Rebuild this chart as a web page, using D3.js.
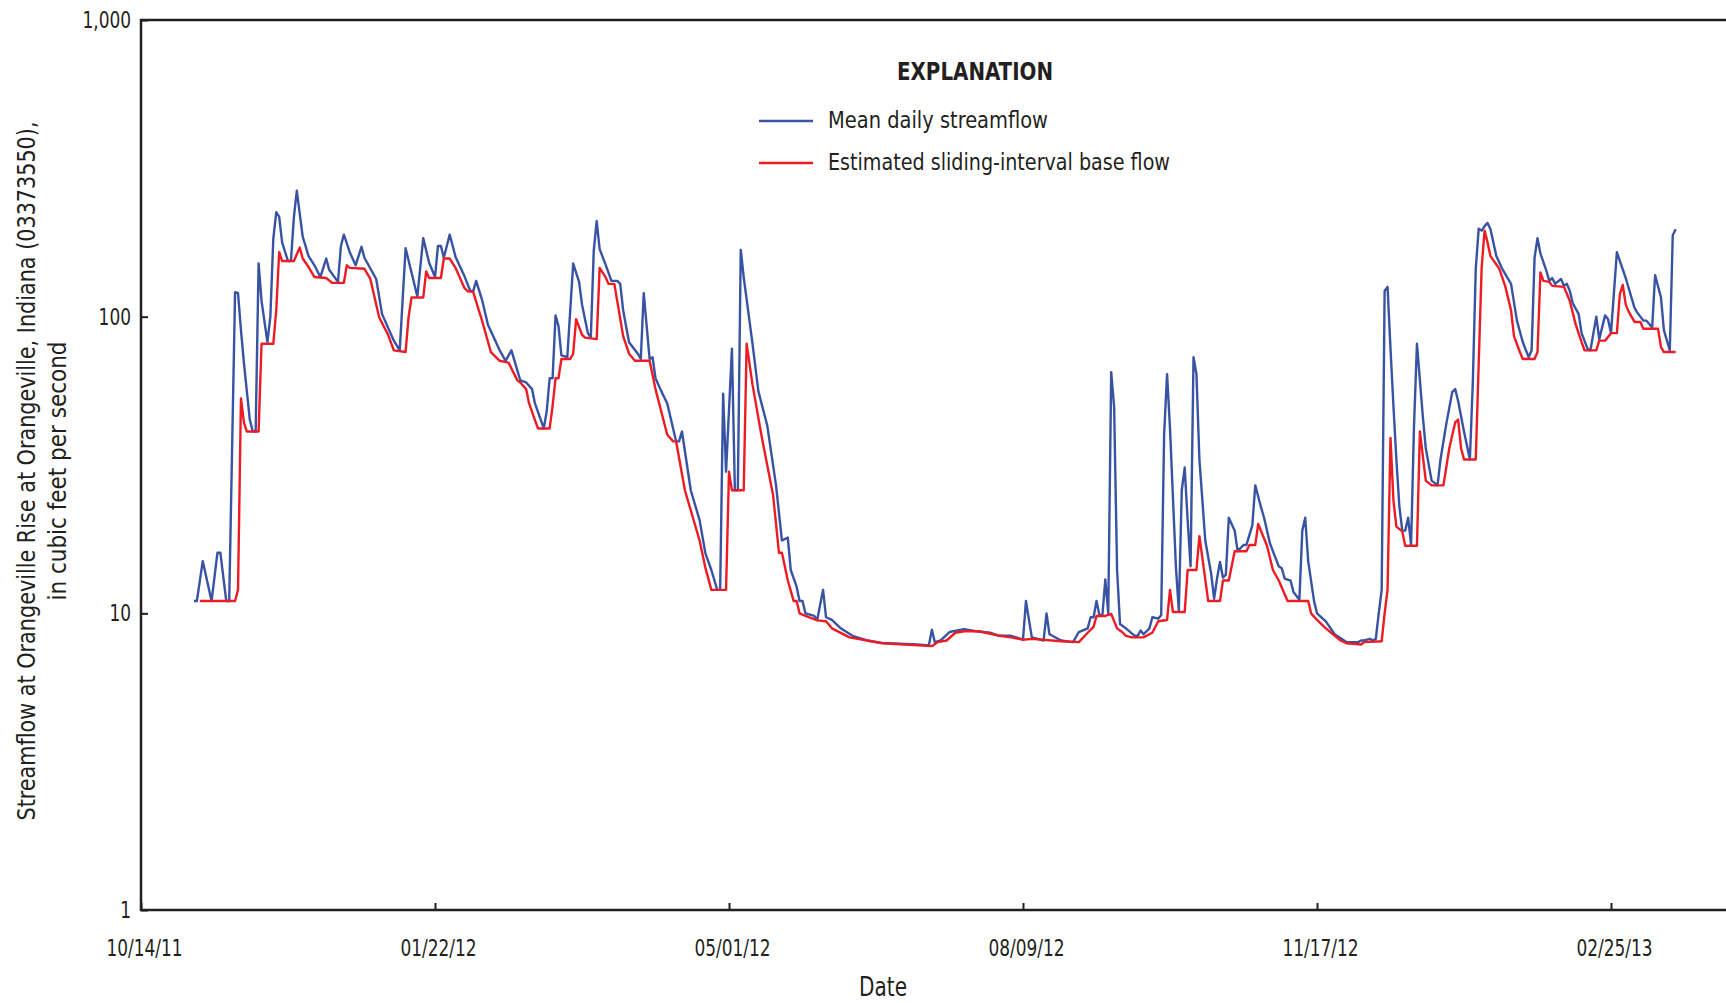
<!DOCTYPE html>
<html>
<head>
<meta charset="utf-8">
<script src="https://cdn.jsdelivr.net/npm/d3@7"></script>
<style>
  body { margin: 0; background: #fff; }
  svg { display: block; }
</style>
</head>
<body>
<div id="runApp"></div>
<script>
const width = 1726;
const height = 1003;
const font = "'Liberation Sans Narrow', 'Arial Narrow', 'DejaVu Sans Condensed', sans-serif";
const ink = "#231f20";

// axis ticks
const yTicks = [1, 10, 100, 1000];
const xTickLabels = ["10/14/11", "01/22/12", "05/01/12", "08/09/12", "11/17/12", "02/25/13"];
const xDomain = ["10/14/11", "06/05/13"];

const seriesNames = ["Mean daily streamflow", "Estimated sliding-interval base flow"];
const seriesColors = ["#3953a4", "#ed1c24"];

// mean daily streamflow, cubic feet per second (turning points)
const streamflow = [
  ["2011-11-01", 11], ["2011-11-02", 11], ["2011-11-04", 15], ["2011-11-07", 11], ["2011-11-09", 16],
  ["2011-11-10", 16], ["2011-11-12", 11], ["2011-11-13", 11], ["2011-11-15", 121], ["2011-11-16", 120],
  ["2011-11-17", 90], ["2011-11-18", 70], ["2011-11-20", 45], ["2011-11-21", 41], ["2011-11-22", 41],
  ["2011-11-23", 151], ["2011-11-24", 113], ["2011-11-26", 82], ["2011-11-27", 100], ["2011-11-28", 183],
  ["2011-11-29", 225], ["2011-11-30", 217], ["2011-12-01", 178], ["2011-12-03", 154], ["2011-12-04", 154],
  ["2011-12-05", 216], ["2011-12-06", 266], ["2011-12-07", 222], ["2011-12-08", 186], ["2011-12-10", 160],
  ["2011-12-12", 149], ["2011-12-14", 136], ["2011-12-16", 157], ["2011-12-17", 144], ["2011-12-20", 131],
  ["2011-12-21", 173], ["2011-12-22", 189], ["2011-12-24", 165], ["2011-12-26", 149], ["2011-12-28", 172],
  ["2011-12-29", 158], ["2012-01-02", 134], ["2012-01-04", 102], ["2012-01-08", 83], ["2012-01-10", 77],
  ["2012-01-12", 170], ["2012-01-16", 117], ["2012-01-18", 184], ["2012-01-20", 152], ["2012-01-22", 136],
  ["2012-01-23", 173], ["2012-01-24", 173], ["2012-01-25", 158], ["2012-01-27", 189], ["2012-01-29", 159],
  ["2012-02-01", 137], ["2012-02-03", 122], ["2012-02-04", 122], ["2012-02-05", 132], ["2012-02-07", 114],
  ["2012-02-09", 94], ["2012-02-13", 77], ["2012-02-15", 71], ["2012-02-17", 77], ["2012-02-20", 61],
  ["2012-02-22", 60], ["2012-02-24", 57], ["2012-02-25", 51], ["2012-02-28", 42], ["2012-02-29", 48],
  ["2012-03-01", 62], ["2012-03-02", 62], ["2012-03-03", 101], ["2012-03-04", 93], ["2012-03-05", 74],
  ["2012-03-07", 73], ["2012-03-09", 151], ["2012-03-11", 131], ["2012-03-12", 110], ["2012-03-14", 88],
  ["2012-03-15", 85], ["2012-03-16", 167], ["2012-03-17", 210], ["2012-03-18", 169], ["2012-03-20", 150],
  ["2012-03-22", 132], ["2012-03-24", 132], ["2012-03-25", 129], ["2012-03-26", 105], ["2012-03-28", 82],
  ["2012-03-31", 75], ["2012-04-01", 72], ["2012-04-02", 120], ["2012-04-04", 72], ["2012-04-05", 73],
  ["2012-04-06", 62], ["2012-04-08", 56], ["2012-04-10", 51], ["2012-04-13", 38], ["2012-04-14", 38],
  ["2012-04-15", 41], ["2012-04-18", 26], ["2012-04-21", 20.6], ["2012-04-23", 15.9], ["2012-04-25", 14],
  ["2012-04-27", 12], ["2012-04-28", 12], ["2012-04-29", 55], ["2012-04-30", 30], ["2012-05-02", 78],
  ["2012-05-03", 26], ["2012-05-04", 26], ["2012-05-05", 168], ["2012-05-06", 136], ["2012-05-09", 81],
  ["2012-05-11", 56], ["2012-05-14", 43], ["2012-05-17", 27], ["2012-05-19", 17.6], ["2012-05-21", 18],
  ["2012-05-22", 14], ["2012-05-24", 12.3], ["2012-05-25", 11], ["2012-05-26", 11], ["2012-05-27", 10],
  ["2012-05-30", 9.8], ["2012-05-31", 9.5], ["2012-06-02", 12], ["2012-06-03", 9.7], ["2012-06-05", 9.5],
  ["2012-06-08", 8.9], ["2012-06-12", 8.4], ["2012-06-17", 8.1], ["2012-06-22", 7.95], ["2012-06-28", 7.9],
  ["2012-07-04", 7.85], ["2012-07-08", 7.8], ["2012-07-09", 8.8], ["2012-07-10", 8.0], ["2012-07-12", 8.1],
  ["2012-07-15", 8.65], ["2012-07-20", 8.85], ["2012-07-24", 8.7], ["2012-07-29", 8.6], ["2012-08-01", 8.4],
  ["2012-08-05", 8.4], ["2012-08-09", 8.15], ["2012-08-10", 11], ["2012-08-12", 8.3], ["2012-08-16", 8.1],
  ["2012-08-17", 10], ["2012-08-18", 8.5], ["2012-08-22", 8.1], ["2012-08-26", 8.0], ["2012-08-28", 8.65],
  ["2012-08-31", 8.9], ["2012-09-01", 9.7], ["2012-09-02", 9.7], ["2012-09-03", 11], ["2012-09-04", 9.85],
  ["2012-09-05", 9.85], ["2012-09-06", 13], ["2012-09-07", 10], ["2012-09-08", 65], ["2012-09-09", 49.5],
  ["2012-09-10", 14], ["2012-09-11", 9.2], ["2012-09-13", 8.9], ["2012-09-16", 8.4], ["2012-09-17", 8.4],
  ["2012-09-18", 8.75], ["2012-09-19", 8.5], ["2012-09-21", 8.9], ["2012-09-22", 9.7], ["2012-09-24", 9.6],
  ["2012-09-25", 9.85], ["2012-09-26", 40], ["2012-09-27", 64], ["2012-09-28", 42], ["2012-09-30", 14.4],
  ["2012-10-01", 10.2], ["2012-10-02", 26], ["2012-10-03", 31], ["2012-10-04", 20.6], ["2012-10-05", 14.4],
  ["2012-10-06", 73], ["2012-10-07", 64], ["2012-10-08", 33], ["2012-10-10", 17.6], ["2012-10-12", 13.6],
  ["2012-10-13", 11.2], ["2012-10-14", 13.1], ["2012-10-15", 14.9], ["2012-10-16", 13.2], ["2012-10-17", 13.5],
  ["2012-10-18", 21], ["2012-10-20", 19], ["2012-10-21", 16.2], ["2012-10-23", 17], ["2012-10-24", 17],
  ["2012-10-26", 19.8], ["2012-10-27", 27], ["2012-10-29", 22.7], ["2012-10-30", 21], ["2012-11-01", 17.2],
  ["2012-11-04", 14.4], ["2012-11-05", 14.2], ["2012-11-06", 13.1], ["2012-11-08", 12.9], ["2012-11-09", 11.8],
  ["2012-11-11", 11.1], ["2012-11-12", 19], ["2012-11-13", 21], ["2012-11-14", 15], ["2012-11-16", 11],
  ["2012-11-17", 10], ["2012-11-20", 9.4], ["2012-11-23", 8.5], ["2012-11-27", 8.0], ["2012-12-01", 8.0],
  ["2012-12-02", 8.1], ["2012-12-03", 8.1], ["2012-12-05", 8.2], ["2012-12-06", 8.1], ["2012-12-07", 8.2],
  ["2012-12-08", 10], ["2012-12-09", 12], ["2012-12-10", 122], ["2012-12-11", 126], ["2012-12-12", 78],
  ["2012-12-13", 50], ["2012-12-14", 33], ["2012-12-15", 23], ["2012-12-16", 19], ["2012-12-17", 19],
  ["2012-12-18", 21], ["2012-12-19", 17], ["2012-12-20", 43], ["2012-12-21", 81], ["2012-12-23", 46],
  ["2012-12-24", 36], ["2012-12-26", 28], ["2012-12-28", 27], ["2012-12-29", 33], ["2012-12-31", 43.6],
  ["2013-01-02", 55.7], ["2013-01-03", 57], ["2013-01-04", 52], ["2013-01-06", 41], ["2013-01-08", 33],
  ["2013-01-09", 60], ["2013-01-10", 145], ["2013-01-11", 198], ["2013-01-12", 195], ["2013-01-13", 202],
  ["2013-01-14", 207], ["2013-01-15", 197], ["2013-01-17", 160], ["2013-01-19", 145], ["2013-01-22", 129],
  ["2013-01-24", 97], ["2013-01-26", 82], ["2013-01-28", 73], ["2013-01-29", 77], ["2013-01-30", 158],
  ["2013-01-31", 184], ["2013-02-01", 163], ["2013-02-03", 143], ["2013-02-04", 132], ["2013-02-05", 135],
  ["2013-02-06", 129], ["2013-02-08", 134], ["2013-02-09", 127], ["2013-02-10", 129], ["2013-02-11", 122],
  ["2013-02-12", 111], ["2013-02-14", 102], ["2013-02-15", 88], ["2013-02-17", 78], ["2013-02-18", 77],
  ["2013-02-20", 100], ["2013-02-21", 84], ["2013-02-23", 101], ["2013-02-24", 98], ["2013-02-25", 88],
  ["2013-02-27", 165], ["2013-03-02", 135], ["2013-03-05", 107], ["2013-03-06", 103], ["2013-03-08", 97],
  ["2013-03-09", 97], ["2013-03-11", 92], ["2013-03-12", 138], ["2013-03-14", 116], ["2013-03-15", 90],
  ["2013-03-17", 77], ["2013-03-18", 188], ["2013-03-19", 197],
];

// estimated sliding-interval base flow, cubic feet per second
const baseflow = [
  ["2011-11-03", 11], ["2011-11-15", 11], ["2011-11-16", 12], ["2011-11-17", 53], ["2011-11-18", 44],
  ["2011-11-19", 41], ["2011-11-23", 41], ["2011-11-24", 81], ["2011-11-28", 81], ["2011-11-29", 105],
  ["2011-11-30", 165], ["2011-12-01", 154], ["2011-12-05", 154], ["2011-12-07", 171], ["2011-12-08", 157],
  ["2011-12-10", 147], ["2011-12-12", 136], ["2011-12-16", 135], ["2011-12-18", 130], ["2011-12-22", 130],
  ["2011-12-23", 149], ["2011-12-24", 146], ["2011-12-29", 145], ["2011-12-31", 134], ["2012-01-03", 99.5],
  ["2012-01-06", 87], ["2012-01-08", 77], ["2012-01-12", 76], ["2012-01-13", 99.5], ["2012-01-14", 116],
  ["2012-01-18", 116], ["2012-01-19", 142], ["2012-01-20", 135], ["2012-01-24", 135], ["2012-01-25", 157],
  ["2012-01-27", 157], ["2012-01-29", 146], ["2012-02-01", 125], ["2012-02-02", 122], ["2012-02-04", 121],
  ["2012-02-07", 97], ["2012-02-10", 76], ["2012-02-13", 71], ["2012-02-16", 70], ["2012-02-19", 61],
  ["2012-02-20", 60], ["2012-02-22", 57], ["2012-02-23", 51], ["2012-02-26", 42], ["2012-03-01", 42],
  ["2012-03-02", 50], ["2012-03-03", 62], ["2012-03-04", 62], ["2012-03-05", 72], ["2012-03-08", 72],
  ["2012-03-09", 75], ["2012-03-10", 98], ["2012-03-12", 87], ["2012-03-13", 85], ["2012-03-17", 84],
  ["2012-03-18", 146], ["2012-03-20", 136], ["2012-03-21", 129], ["2012-03-23", 129], ["2012-03-26", 86],
  ["2012-03-28", 75], ["2012-03-30", 71], ["2012-04-04", 71], ["2012-04-06", 57], ["2012-04-10", 40],
  ["2012-04-12", 38], ["2012-04-13", 38], ["2012-04-16", 26], ["2012-04-21", 17.6], ["2012-04-23", 14.2],
  ["2012-04-25", 12], ["2012-04-30", 12], ["2012-05-01", 30], ["2012-05-02", 26], ["2012-05-06", 26],
  ["2012-05-07", 81], ["2012-05-09", 59], ["2012-05-12", 40], ["2012-05-16", 25], ["2012-05-18", 16],
  ["2012-05-19", 16], ["2012-05-21", 12.9], ["2012-05-23", 11], ["2012-05-24", 11], ["2012-05-25", 10],
  ["2012-05-27", 9.8], ["2012-05-31", 9.47], ["2012-06-03", 9.4], ["2012-06-05", 8.9], ["2012-06-11", 8.3],
  ["2012-06-17", 8.1], ["2012-06-22", 7.93], ["2012-07-09", 7.75], ["2012-07-11", 8.0], ["2012-07-14", 8.1],
  ["2012-07-17", 8.6], ["2012-07-20", 8.7], ["2012-07-25", 8.7], ["2012-08-01", 8.4], ["2012-08-05", 8.3],
  ["2012-08-09", 8.15], ["2012-08-12", 8.2], ["2012-08-22", 8.05], ["2012-08-28", 8.0], ["2012-08-31", 8.6],
  ["2012-09-02", 9.0], ["2012-09-03", 9.8], ["2012-09-06", 9.8], ["2012-09-08", 9.95], ["2012-09-10", 8.9],
  ["2012-09-12", 8.6], ["2012-09-13", 8.4], ["2012-09-15", 8.3], ["2012-09-19", 8.3], ["2012-09-21", 8.5],
  ["2012-09-22", 8.6], ["2012-09-24", 9.4], ["2012-09-27", 9.5], ["2012-09-28", 12], ["2012-09-29", 10.1],
  ["2012-10-03", 10.1], ["2012-10-04", 14], ["2012-10-07", 14], ["2012-10-08", 18.2], ["2012-10-11", 11],
  ["2012-10-15", 11], ["2012-10-16", 12.9], ["2012-10-18", 12.9], ["2012-10-20", 16.2], ["2012-10-24", 16.2],
  ["2012-10-25", 17], ["2012-10-27", 17], ["2012-10-28", 20], ["2012-10-31", 16.9], ["2012-11-02", 14],
  ["2012-11-04", 12.9], ["2012-11-07", 11], ["2012-11-14", 11], ["2012-11-15", 10], ["2012-11-17", 9.5],
  ["2012-11-20", 8.9], ["2012-11-25", 8.1], ["2012-11-27", 7.93], ["2012-12-02", 7.85], ["2012-12-03", 8.0],
  ["2012-12-09", 8.05], ["2012-12-10", 10], ["2012-12-11", 12], ["2012-12-12", 39], ["2012-12-13", 24],
  ["2012-12-14", 19.6], ["2012-12-16", 18.9], ["2012-12-17", 16.9], ["2012-12-21", 16.9], ["2012-12-22", 41],
  ["2012-12-24", 28], ["2012-12-26", 27], ["2012-12-30", 27], ["2013-01-01", 36], ["2013-01-03", 44],
  ["2013-01-04", 45], ["2013-01-05", 36], ["2013-01-06", 33], ["2013-01-10", 33], ["2013-01-12", 146],
  ["2013-01-13", 195], ["2013-01-14", 178], ["2013-01-15", 160], ["2013-01-18", 145], ["2013-01-20", 127],
  ["2013-01-22", 105], ["2013-01-23", 86], ["2013-01-25", 76], ["2013-01-26", 72], ["2013-01-30", 72],
  ["2013-01-31", 76], ["2013-02-01", 141], ["2013-02-02", 132], ["2013-02-04", 131], ["2013-02-05", 127],
  ["2013-02-09", 126], ["2013-02-11", 113], ["2013-02-13", 94], ["2013-02-15", 82], ["2013-02-16", 77],
  ["2013-02-20", 77], ["2013-02-21", 83], ["2013-02-23", 83], ["2013-02-25", 88], ["2013-02-27", 88],
  ["2013-02-28", 119], ["2013-03-01", 128], ["2013-03-02", 110], ["2013-03-03", 104], ["2013-03-05", 96],
  ["2013-03-07", 96], ["2013-03-08", 91], ["2013-03-13", 91], ["2013-03-14", 79], ["2013-03-15", 76],
  ["2013-03-19", 76],
];

const parseIso = d3.utcParse("%Y-%m-%d");
const parseTick = d3.utcParse("%m/%d/%y");

const plotLeft = 141;
const plotTop = 20;
const plotBottom = 910;
const plotRight = 1905; // frame runs past the right edge of the picture

let svg, x, y;

// squeeze a text to a condensed width (no condensed face is installed)
function fit(sel, len) {
  sel.attr("textLength", len).attr("lengthAdjust", "spacingAndGlyphs");
}

function condense(sel, k) {
  sel.each(function () {
    fit(d3.select(this), this.getComputedTextLength() * k);
  });
}

async function prepareVis() {
  svg = d3
    .select("#runApp")
    .append("svg")
    .attr("width", width)
    .attr("height", height)
    .style("background", "#fff")
    .style("font-family", font);

  x = d3.scaleUtc().domain(xDomain.map(parseTick)).range([plotLeft, plotRight]);
  y = d3.scaleLog().domain([1, 1000]).range([plotBottom, plotTop]);
}

function drawAxes() {
  const yAxis = d3
    .axisLeft(y)
    .tickValues(yTicks)
    .tickFormat(d3.format(","))
    .tickSizeInner(-7)
    .tickSizeOuter(0)
    .tickPadding(10);

  const xAxis = d3
    .axisBottom(x)
    .tickValues(xTickLabels.map(parseTick))
    .tickFormat(d3.utcFormat("%m/%d/%y"))
    .tickSizeInner(-7)
    .tickSizeOuter(0)
    .tickPadding(30);

  const gy = svg.append("g").attr("transform", `translate(${plotLeft},0)`).call(yAxis);
  const gx = svg.append("g").attr("transform", `translate(0,${plotBottom})`).call(xAxis);

  for (const g of [gx, gy]) {
    g.select(".domain").remove();
    g.selectAll(".tick line").attr("stroke", ink).attr("stroke-width", 2);
    g.selectAll(".tick text")
      .attr("fill", ink)
      .attr("font-size", 23)
      .attr("font-family", font)
      .call(condense, 0.82);
  }
  gx.selectAll(".tick text").attr("dx", 3);

  // frame: top, left and bottom edges
  svg
    .append("path")
    .attr("d", `M${plotRight},${plotTop}H${plotLeft}V${plotBottom}H${plotRight}`)
    .attr("fill", "none")
    .attr("stroke", ink)
    .attr("stroke-width", 2.5);

  svg
    .append("text")
    .text("Date")
    .attr("x", 883)
    .attr("y", 996)
    .attr("text-anchor", "middle")
    .attr("font-size", 26)
    .attr("fill", ink)
    .call(fit, 48);

  const yTitle = [
    "Streamflow at Orangeville Rise at Orangeville, Indiana (03373550),",
    "in cubic feet per second",
  ];
  const yTitleWidths = [699, 259];
  yTitle.forEach((t, i) => {
    svg
      .append("text")
      .text(t)
      .attr("transform", `translate(${35 + i * 31},471) rotate(-90)`)
      .attr("text-anchor", "middle")
      .attr("font-size", 25)
      .attr("fill", ink)
      .call(fit, yTitleWidths[i]);
  });
}

function drawLegend() {
  const legend = svg.append("g");

  legend
    .append("text")
    .text("EXPLANATION")
    .attr("x", 975)
    .attr("y", 80)
    .attr("text-anchor", "middle")
    .attr("font-size", 25)
    .attr("font-weight", "bold")
    .attr("fill", ink)
    .call(fit, 156);

  const labelWidths = [220, 342];
  seriesNames.forEach((name, i) => {
    const ly = 121 + i * 42;
    legend
      .append("line")
      .attr("x1", 759)
      .attr("x2", 813)
      .attr("y1", ly)
      .attr("y2", ly)
      .attr("stroke", seriesColors[i])
      .attr("stroke-width", 2.5);
    legend
      .append("text")
      .text(name)
      .attr("x", 828)
      .attr("y", ly + 7)
      .attr("font-size", 23)
      .attr("fill", ink)
      .call(fit, labelWidths[i]);
  });
}

async function drawVis() {
  drawAxes();

  const line = d3
    .line()
    .x((d) => x(parseIso(d[0])))
    .y((d) => y(d[1]));

  [streamflow, baseflow].forEach((series, i) => {
    svg
      .append("path")
      .datum(series)
      .attr("d", line)
      .attr("fill", "none")
      .attr("stroke", seriesColors[i])
      .attr("stroke-width", 2.4)
      .attr("stroke-linejoin", "round");
  });

  drawLegend();
}

async function runApp() {
  await prepareVis();
  await drawVis();
}

runApp();
</script>
</body>
</html>
